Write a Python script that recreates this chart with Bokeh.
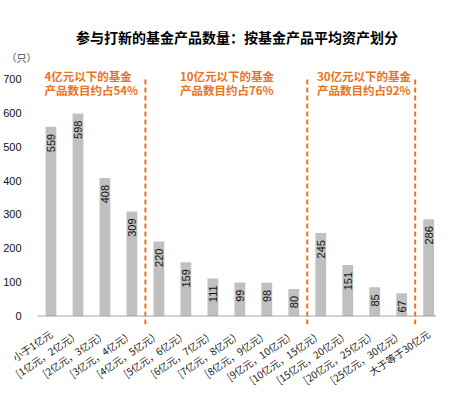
import math
from bokeh.plotting import figure
from bokeh.models import Range1d, FixedTicker, Label, Span, Title, ColumnDataSource
from bokeh.core.properties import value
from bokeh.embed import file_html
from bokeh.resources import INLINE

categories = ["小于1亿元", "[1亿元，2亿元）", "[2亿元，3亿元）", "[3亿元，4亿元）",
              "[4亿元，5亿元）", "[5亿元，6亿元）", "[6亿元，7亿元）", "[7亿元，8亿元）",
              "[8亿元，9亿元）", "[9亿元，10亿元）", "[10亿元，15亿元）", "[15亿元，20亿元）",
              "[20亿元，25亿元）", "[25亿元，30亿元）", "大于等于30亿元"]
counts = [559, 598, 408, 309, 220, 159, 111, 99, 98, 80, 245, 151, 85, 67, 286]
y_ticks = [0, 100, 200, 300, 400, 500, 600, 700]
group_last_index = [3, 9, 13]
group_notes = [("4亿元以下的基金", "产品数目约占54%"),
               ("10亿元以下的基金", "产品数目约占76%"),
               ("30亿元以下的基金", "产品数目约占92%")]
title_text = "参与打新的基金产品数量：按基金产品平均资产划分"
unit_text = "（只）"

CJK = "Noto Sans CJK SC"
NUM = "Liberation Sans"
ORANGE = "#E8731E"

W, H = 436, 398
Y0, Y1 = -25, 740
p = figure(width=W, height=H, output_backend="svg", toolbar_location=None,
           x_range=Range1d(-0.5, 14.29), y_range=Range1d(Y0, Y1),
           min_border_left=28, min_border_right=0, min_border_top=65, min_border_bottom=74)
p.outline_line_color = None
p.background_fill_color = "white"
p.border_fill_color = "white"
p.xgrid.visible = False
p.ygrid.visible = False

# main title (outermost) and unit title (next to the frame)
p.title.text = title_text
p.title.align = "center"
p.title.offset = -4
p.title.standoff = -1
p.title.text_font = CJK
p.title.text_font_size = "14px"
p.title.text_font_style = "bold"
p.title.text_color = "#000000"
p.add_layout(Title(text=unit_text, align="left", offset=-31, standoff=2, text_font=CJK,
                   text_font_size="10px", text_font_style="normal",
                   text_color="#404a60"), "above")

xs = list(range(len(categories)))
src = ColumnDataSource(dict(x=xs, top=counts, lab=[str(c) for c in counts]))
p.vbar(x="x", top="top", width=0.4, bottom=0, source=src, fill_color="#C0C0C0", line_color=None)

p.text(x="x", y="top", text="lab", source=src, angle=math.pi / 2, text_align="right",
       text_baseline="middle", y_offset=7, text_font=value(NUM), text_font_size="11px",
       text_color="#111111")

# axis line at zero
p.add_layout(Span(location=0, dimension="width", line_color="#A6A6A6", line_width=1))

# dividers
div_x = [i + 0.5 for i in group_last_index]
p.segment(x0=div_x, x1=div_x, y0=[Y0] * 3, y1=[707] * 3, line_color=ORANGE,
          line_width=2, line_dash="5 3")

# axes
p.xaxis.ticker = FixedTicker(ticks=xs)
p.xaxis.major_label_overrides = {i: c for i, c in enumerate(categories)}
p.xaxis.major_label_orientation = 0.6
p.xaxis.axis_line_color = None
p.xaxis.major_tick_line_color = None
p.xaxis.minor_tick_line_color = None
p.xaxis.major_label_text_font = CJK
p.xaxis.major_label_text_font_size = "10px"
p.xaxis.major_label_text_color = "#222222"
p.xaxis.major_label_standoff = 2

p.yaxis.ticker = FixedTicker(ticks=y_ticks)
p.yaxis.axis_line_color = None
p.yaxis.major_tick_line_color = None
p.yaxis.minor_tick_line_color = None
p.yaxis.major_label_text_font = NUM
p.yaxis.major_label_text_font_size = "11px"
p.yaxis.major_label_text_color = "#111111"
p.yaxis.major_label_standoff = 10

note_x = [-0.24, 4.78, 9.86]
for nx, (l1, l2) in zip(note_x, group_notes):
    p.add_layout(Label(x=nx, y=708, text=l1, text_align="left", text_baseline="middle",
                       text_font=CJK, text_font_size="11.5px", text_font_style="bold",
                       text_color=ORANGE))
    p.add_layout(Label(x=nx, y=669, text=l2, text_align="left", text_baseline="middle",
                       text_font=CJK, text_font_size="11.5px", text_font_style="bold",
                       text_color=ORANGE))

open("out.html", "w").write(file_html(p, INLINE))
